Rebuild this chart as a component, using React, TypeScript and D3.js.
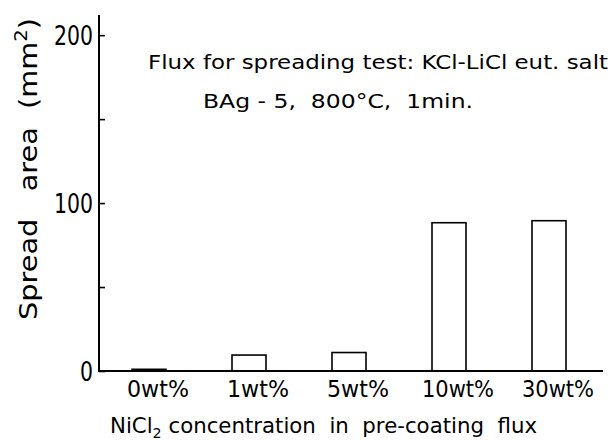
import { useEffect, useRef } from "react";
import * as d3 from "d3";

const categories = ["0wt%", "1wt%", "5wt%", "10wt%", "30wt%"];
const spreadArea = [1, 9.5, 11, 88.3, 89.5];
const yTicks = [0, 50, 100, 150, 200];
const yTickLabels = ["0", "", "100", "", "200"];

const FONT = "'DejaVu Sans', sans-serif";

export default function App() {
  const svgRef = useRef<SVGSVGElement | null>(null);

  useEffect(() => {
    if (!svgRef.current) return;
    const svg = d3.select(svgRef.current);
    svg.selectAll("*").remove();

    const x = d3
      .scaleBand<string>()
      .domain(categories)
      .range([99, 599])
      .paddingInner(0.66)
      .paddingOuter(0.33);

    const y = d3.scaleLinear().domain([0, 212]).range([371, 15]);

    // bars
    svg
      .selectAll("rect.bar")
      .data(categories)
      .enter()
      .append("rect")
      .attr("class", "bar")
      .attr("x", (d) => x(d)!)
      .attr("y", (_, i) => y(spreadArea[i]))
      .attr("width", x.bandwidth())
      .attr("height", (_, i) => y(0) - y(spreadArea[i]))
      .attr("fill", "white")
      .attr("stroke", "black")
      .attr("stroke-width", 1.6);

    // y axis
    const yAxis = svg
      .append("g")
      .attr("transform", `translate(99,0)`)
      .call(
        d3
          .axisLeft(y)
          .tickValues(yTicks)
          .tickSizeInner(-6)
          .tickSizeOuter(0)
          .tickPadding(6)
          .tickFormat((_, i) => yTickLabels[i])
      );
    yAxis.select(".domain").remove();
    yAxis.selectAll("line").attr("stroke", "black").attr("stroke-width", 1.6);
    yAxis
      .selectAll("text")
      .attr("font-family", FONT)
      .attr("font-size", 26)
      .attr("fill", "black")
      .attr("dy", "0.36em")
      .attr("textLength", (_, i) => (yTickLabels[i].length * 13) as any)
      .attr("lengthAdjust", "spacingAndGlyphs");

    svg
      .append("line")
      .attr("x1", 99)
      .attr("x2", 99)
      .attr("y1", y(0) + 1)
      .attr("y2", y(212))
      .attr("stroke", "black")
      .attr("stroke-width", 2);

    // x axis
    const xAxis = svg
      .append("g")
      .attr("transform", `translate(0,${y(0)})`)
      .call(d3.axisBottom(x).tickSize(0).tickPadding(9));
    xAxis.select(".domain").remove();
    xAxis
      .selectAll("text")
      .attr("font-family", FONT)
      .attr("font-size", 23)
      .attr("fill", "black")
      .attr("dx", 9)
      .attr("dy", "0.72em")
      .attr("textLength", (d: any) => (d.length === 4 ? 62 : 72) as any)
      .attr("lengthAdjust", "spacingAndGlyphs");

    svg
      .append("line")
      .attr("x1", 98)
      .attr("x2", x.range()[1] + 4)
      .attr("y1", y(0))
      .attr("y2", y(0))
      .attr("stroke", "black")
      .attr("stroke-width", 2);

    // y title
    const yt = svg
      .append("text")
      .attr("transform", "translate(37,320) rotate(-90)")
      .attr("font-family", FONT)
      .attr("font-size", 25)
      .attr("fill", "black")
      .style("white-space", "pre")
      .attr("textLength", 302)
      .attr("lengthAdjust", "spacingAndGlyphs");
    yt.append("tspan").text("Spread   area  (mm");
    yt.append("tspan").attr("dy", -10).attr("font-size", 17).text("2");
    yt.append("tspan").attr("dy", 10).text(")");

    // x title
    const xt = svg
      .append("text")
      .attr("x", 110)
      .attr("y", 433)
      .attr("font-family", FONT)
      .attr("font-size", 21)
      .attr("fill", "black")
      .style("white-space", "pre")
      .attr("textLength", 427)
      .attr("lengthAdjust", "spacingAndGlyphs");
    xt.append("tspan").text("NiCl");
    xt.append("tspan").attr("dy", 5).attr("font-size", 14).text("2");
    xt.append("tspan").attr("dy", -5).text(" concentration  in  pre-coating  flux");

    // annotations
    svg
      .append("text")
      .attr("x", 148)
      .attr("y", 69)
      .attr("font-family", FONT)
      .attr("font-size", 19)
      .attr("fill", "black")
      .style("white-space", "pre")
      .attr("textLength", 460)
      .attr("lengthAdjust", "spacingAndGlyphs")
      .text("Flux for spreading test: KCl-LiCl eut. salt");

    svg
      .append("text")
      .attr("x", 203)
      .attr("y", 108)
      .attr("font-family", FONT)
      .attr("font-size", 20)
      .attr("fill", "black")
      .style("white-space", "pre")
      .attr("textLength", 270)
      .attr("lengthAdjust", "spacingAndGlyphs")
      .text("BAg - 5,  800°C,  1min.");
  }, []);

  return (
    <div style={{ position: "absolute", left: 0, top: 0 }}>
      <svg ref={svgRef} width={616} height={441} style={{ display: "block", background: "white" }} />
    </div>
  );
}
